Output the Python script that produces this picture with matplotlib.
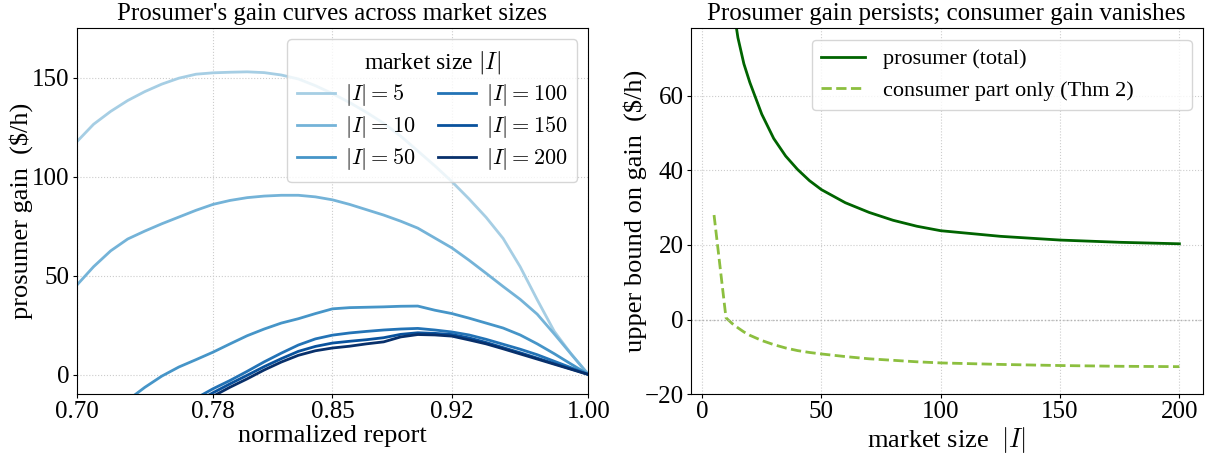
import numpy as np
import matplotlib
matplotlib.use("Agg")
from matplotlib import pyplot as plt

plt.rcParams['font.family'] = ['Liberation Serif', 'DejaVu Serif']
plt.rcParams['mathtext.fontset'] = 'cm'

# left panel: prosumer gain vs normalized report
report = [0.70, 0.71, 0.72, 0.73, 0.74, 0.75, 0.76, 0.77, 0.78, 0.79, 0.80,
          0.81, 0.82, 0.83, 0.84, 0.85, 0.86, 0.87, 0.88, 0.89, 0.90,
          0.91, 0.92, 0.93, 0.94, 0.95, 0.96, 0.97, 0.98, 0.99, 1.00]
market_sizes = [5, 10, 50, 100, 150, 200]
gain_5 = [117.5, 126.5, 133.0, 138.5, 143.0, 146.8, 149.8, 151.8, 152.5, 152.8, 153.0,
          152.6, 151.4, 149.4, 146.0, 142.0, 137.5, 132.5, 127.0, 120.5, 113.0,
          105.5, 97.5, 88.8, 79.5, 68.8, 54.5, 37.8, 21.8, 10.3, 0.0]
gain_10 = [45.0, 54.5, 62.5, 68.5, 72.5, 76.2, 79.6, 83.0, 86.0, 88.0, 89.4,
           90.2, 90.6, 90.6, 89.8, 88.3, 86.0, 83.3, 80.6, 77.5, 74.0,
           69.0, 64.0, 57.8, 51.2, 44.5, 38.0, 30.5, 20.5, 10.2, 0.0]
gain_50 = [-40.0, -30.0, -21.0, -13.0, -6.5, -0.8, 3.8, 7.5, 11.3, 15.5, 19.6,
           23.0, 26.0, 28.2, 30.8, 33.2, 33.8, 34.0, 34.2, 34.5, 34.6,
           32.5, 30.8, 28.5, 26.0, 23.5, 20.0, 15.5, 10.5, 5.2, 0.0]
gain_100 = [-80.0, -65.0, -52.0, -41.0, -31.0, -24.0, -17.5, -12.0, -7.2, -3.0, 1.6,
            6.4, 10.8, 14.9, 18.0, 19.9, 21.0, 21.8, 22.5, 23.0, 23.3,
            22.5, 21.5, 20.0, 17.8, 15.3, 12.8, 10.0, 6.7, 3.4, 0.0]
gain_150 = [-88.0, -72.0, -58.0, -46.0, -36.0, -27.0, -20.0, -14.0, -9.2, -4.7, -0.4,
            4.0, 8.0, 11.7, 14.2, 15.9, 16.8, 17.6, 18.6, 20.3, 21.1,
            20.8, 20.2, 18.5, 16.2, 13.6, 11.0, 8.3, 5.5, 2.8, 0.0]
gain_200 = [-95.0, -78.0, -63.0, -51.0, -40.0, -31.0, -23.5, -16.5, -11.0, -6.4, -2.2,
            2.3, 6.3, 9.7, 12.0, 13.4, 14.3, 15.5, 16.5, 19.0, 20.2,
            20.0, 19.4, 17.5, 15.5, 13.0, 10.4, 7.8, 5.2, 2.6, 0.0]

# right panel: upper bound on gain vs market size
sizes = [5, 10, 12.5, 15, 17.5, 20, 25, 30, 35, 40, 45, 50, 60, 70, 80, 90, 100,
         125, 150, 175, 200]
prosumer_total = [150.0, 100.0, 86.0, 75.5, 68.5, 63.5, 55.0, 48.5, 43.8, 40.2, 37.2,
                  34.8, 31.3, 28.7, 26.6, 25.0, 23.8, 22.3, 21.3, 20.7, 20.3]
consumer_part = [28.0, 0.5, -1.0, -2.2, -3.3, -4.2, -5.6, -6.7, -7.6, -8.3, -8.8,
                 -9.2, -9.9, -10.5, -10.9, -11.3, -11.6, -12.0, -12.3, -12.5, -12.6]

fig, (ax1, ax2) = plt.subplots(1, 2, figsize=(12.07, 4.53), dpi=100)
fig.subplots_adjust(left=0.0634, right=0.9964, bottom=0.1296, top=0.9375, wspace=0.2)

colors = plt.cm.Blues(np.linspace(0.35, 1.0, 6))
for n, g, c in zip(market_sizes, [gain_5, gain_10, gain_50, gain_100, gain_150, gain_200], colors):
    ax1.plot(report, g, color=c, lw=2, label=r'$|I|=%d$' % n)
ax1.set_xlim(0.70, 1.00)
ax1.set_ylim(-10, 175)
ax1.set_xticks([0.70, 0.78, 0.85, 0.92, 1.00])
ax1.set_xticklabels(['0.70', '0.78', '0.85', '0.92', '1.00'])
ax1.set_xlabel('normalized report', fontsize=19, labelpad=1)
ax1.set_ylabel('prosumer gain  (\\$/h)', fontsize=19, labelpad=-1)
ax1.set_title("Prosumer's gain curves across market sizes", fontsize=18)
ax1.grid(True, ls=':', color='0.8')
ax1.legend(title=r'market size $|I|$', ncol=2, loc='upper right',
           fontsize=16, title_fontsize=17, framealpha=0.8,
           handlelength=1.7, handletextpad=0.45, columnspacing=1.0,
           borderpad=0.45, labelspacing=0.27)

ax2.plot(sizes, prosumer_total, color='darkgreen', lw=2, label='prosumer (total)')
ax2.plot(sizes, consumer_part, color='#8cbf3f', lw=2, ls='--',
         label='consumer part only (Thm 2)')
ax2.axhline(0, color='0.7', lw=1, ls=':')
ax2.set_ylim(-20, 78)
ax2.set_xlabel('market size  $|I|$', fontsize=19, labelpad=1)
ax2.set_ylabel('upper bound on gain  (\\$/h)', fontsize=19, labelpad=-1.5)
ax2.set_title('Prosumer gain persists; consumer gain vanishes', fontsize=18)
ax2.grid(True, ls=':', color='0.8')
ax2.legend(loc='upper left', bbox_to_anchor=(0.2365, 0.968, 0.742, 0.0), mode='expand',
           borderaxespad=0, fontsize=16, framealpha=0.8)

for ax in (ax1, ax2):
    ax.tick_params(labelsize=18, length=3, pad=2)

fig.savefig('out.png', dpi=100)
